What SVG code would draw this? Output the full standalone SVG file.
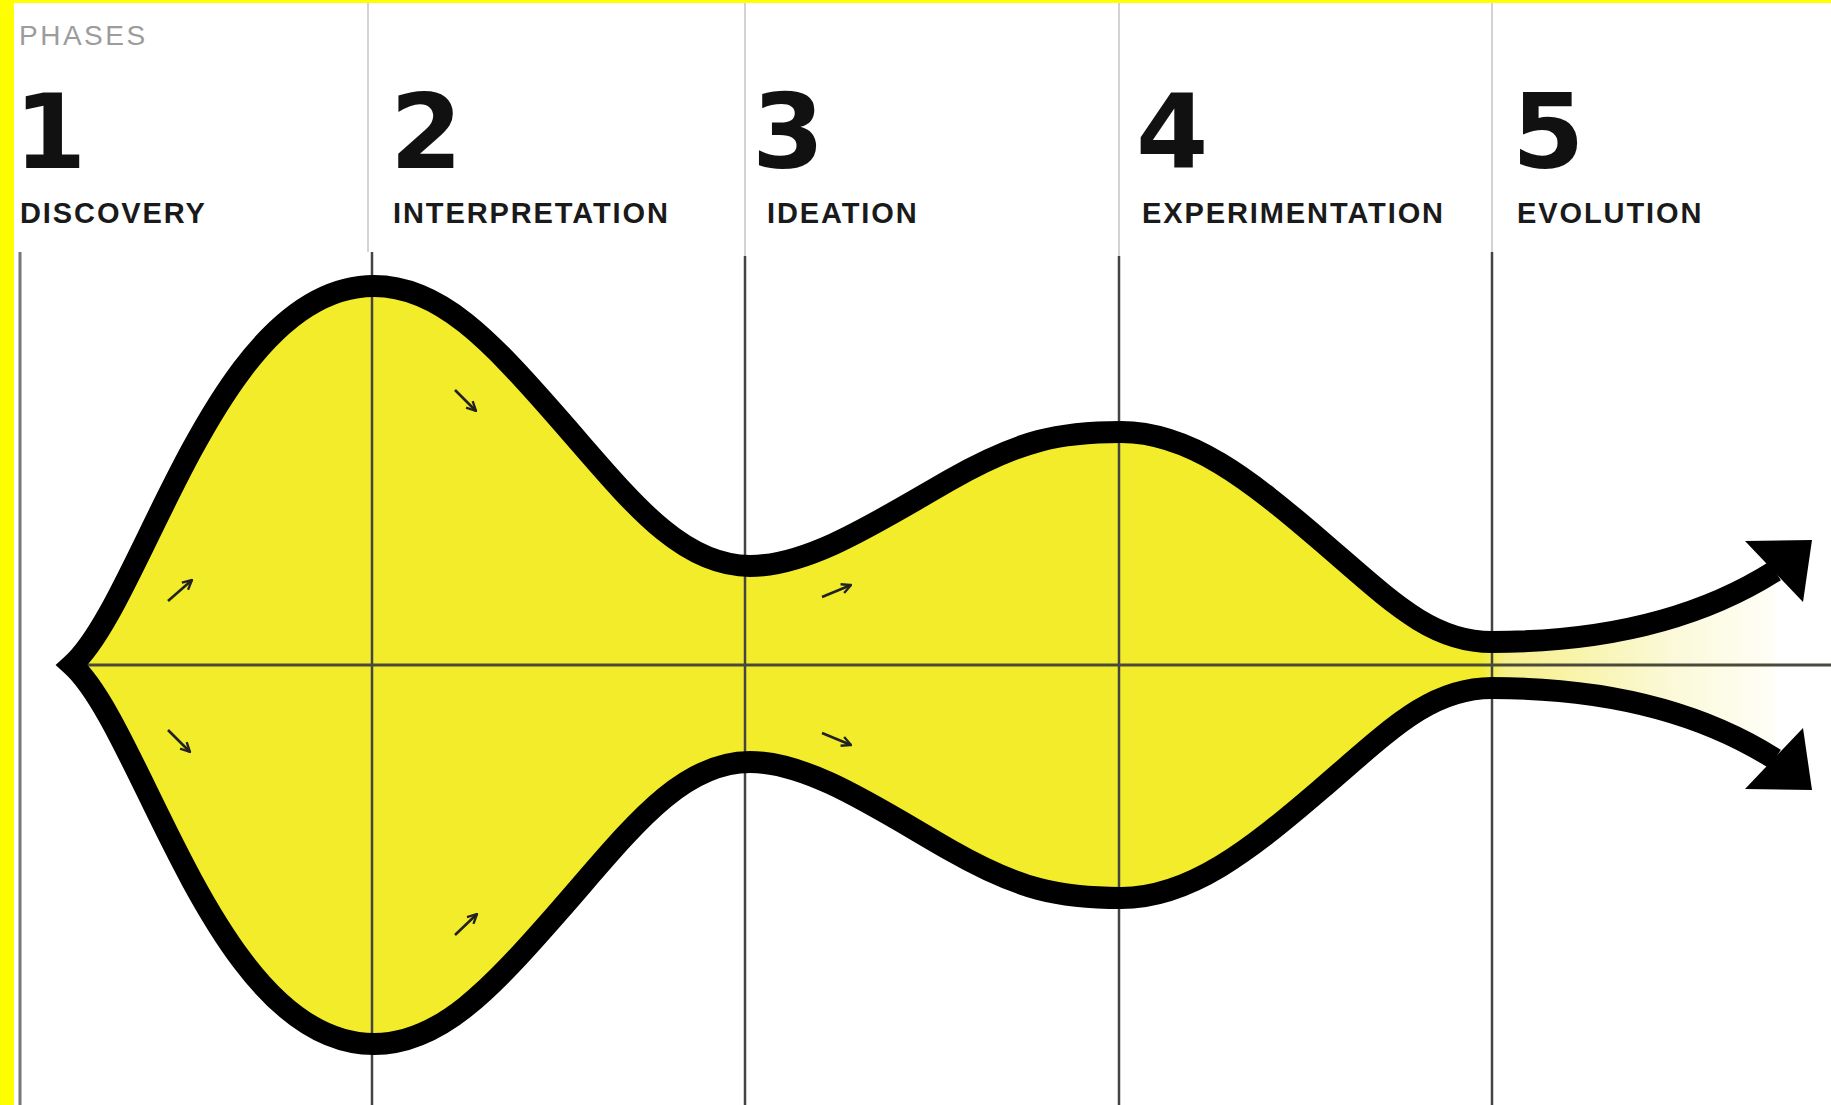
<svg xmlns="http://www.w3.org/2000/svg" width="1831" height="1105" viewBox="0 0 1831 1105">
<style>
.num{font-family:"DejaVu Sans","Liberation Sans",sans-serif;font-weight:bold;font-size:104px;fill:#111}
.lbl{font-family:"Liberation Sans",Arial,sans-serif;font-weight:bold;font-size:29px;fill:#1a1a1a;letter-spacing:1.9px}
.hdr{stroke:#c4c4c4;stroke-width:1.5;fill:none}
.grid{stroke:#444;stroke-width:2.5;fill:none}
.curve{stroke:#000;stroke-width:22;fill:none;stroke-linejoin:miter;stroke-miterlimit:30}
.small{stroke:#222;stroke-width:2.6;fill:none;marker-end:url(#chev)}
</style>
<defs>
<linearGradient id="fade" gradientUnits="userSpaceOnUse" x1="1480" y1="0" x2="1800" y2="0">
<stop offset="0" stop-color="#f3ec2b"/>
<stop offset="0.08" stop-color="#f6f08a"/>
<stop offset="0.6" stop-color="#fbf9d8"/>
<stop offset="1" stop-color="#ffffff"/>
</linearGradient>
<marker id="chev" viewBox="0 0 10 10" refX="9" refY="5" markerWidth="4.5" markerHeight="4.5" orient="auto" markerUnits="strokeWidth">
<path d="M1,1 L9,5 L1,9" fill="none" stroke="#222" stroke-width="2"/>
</marker>
</defs>
<rect x="0" y="0" width="1831" height="1105" fill="#fff"/>
<rect x="0" y="0" width="14" height="1105" fill="#ffff00"/>
<rect x="0" y="0" width="1831" height="3" fill="#ffff00"/>

<g id="header-lines">
<line class="hdr" x1="368" y1="3" x2="368" y2="252"/>
<line class="hdr" x1="745" y1="3" x2="745" y2="256"/>
<line class="hdr" x1="1119" y1="3" x2="1119" y2="256"/>
<line class="hdr" x1="1492" y1="3" x2="1492" y2="252"/>
</g>

<text x="19" y="45" font-family="Liberation Sans, Arial, sans-serif" font-size="28" fill="#9c9c9c" letter-spacing="2.5">PHASES</text>

<g id="phase-1"><text class="num" x="14" y="168">1</text><text class="lbl" x="20" y="223">DISCOVERY</text></g>
<g id="phase-2"><text class="num" x="390" y="168">2</text><text class="lbl" x="393" y="223">INTERPRETATION</text></g>
<g id="phase-3"><text class="num" x="752" y="168">3</text><text class="lbl" x="767" y="223">IDEATION</text></g>
<g id="phase-4"><text class="num" x="1136" y="168">4</text><text class="lbl" x="1142" y="223">EXPERIMENTATION</text></g>
<g id="phase-5"><text class="num" x="1512" y="168">5</text><text class="lbl" x="1517" y="223">EVOLUTION</text></g>

<g id="shape">
<path fill="url(#fade)" d="M72,665 C144,600 217,286 374,286 C440,286 490,340 560,420 C630,500 680,566 750,566 C810,566 880,520 950,480 C1020,440 1060,432 1121,432 C1190,432 1250,480 1320,540 C1390,600 1430,642 1492,642 C1590,642 1690,625 1775,571 L1775,759 C1690,705 1590,688 1492,688 C1430,688 1390,730 1320,790 C1250,850 1190,898 1121,898 C1060,898 1020,890 950,850 C880,810 810,762 750,762 C680,762 630,830 560,910 C490,990 440,1044 374,1044 C217,1044 144,730 72,665 Z"/>
</g>

<g id="grid">
<line x1="20" y1="252" x2="20" y2="1105" style="stroke:#777;stroke-width:3"/>
<line class="grid" x1="372" y1="252" x2="372" y2="1105"/>
<line class="grid" x1="745" y1="256" x2="745" y2="1105"/>
<line class="grid" x1="1119" y1="256" x2="1119" y2="1105"/>
<line class="grid" x1="1492" y1="252" x2="1492" y2="1105"/>
<line x1="72" y1="665" x2="1831" y2="665" style="stroke:#4a4a3a;stroke-width:3"/>
</g>

<g id="connectors">
<path class="curve" d="M1775,571 C1690,625 1590,642 1492,642 C1430,642 1390,600 1320,540 C1250,480 1190,432 1121,432 C1060,432 1020,440 950,480 C880,520 810,566 750,566 C680,566 630,500 560,420 C490,340 440,286 374,286 C217,286 144,600 72,665 C144,730 217,1044 374,1044 C440,1044 490,990 560,910 C630,830 680,762 750,762 C810,762 880,810 950,850 C1020,890 1060,898 1121,898 C1190,898 1250,850 1320,790 C1390,730 1430,688 1492,688 C1590,688 1690,705 1775,759"/>
<polygon points="1745,541 1812,540 1803,602" fill="#000"/>
<polygon points="1803,728 1812,790 1745,789" fill="#000"/>
<path class="small" d="M168,601 L192,580"/>
<path class="small" d="M168,730 L190,752"/>
<path class="small" d="M455,390 L476,411"/>
<path class="small" d="M455,935 L477,914"/>
<path class="small" d="M822,597 L851,585"/>
<path class="small" d="M822,733 L851,745"/>
</g>
</svg>
